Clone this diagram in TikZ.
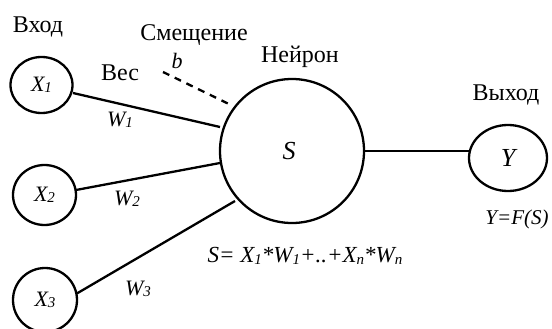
\documentclass[tikz,border=0pt]{standalone}
\usepackage{fontspec}
\setmainfont{Liberation Serif}
\newcommand{\sbs}[1]{\raisebox{-0.15ex}{\fontsize{15}{15}\selectfont #1}}
\begin{document}
\begin{tikzpicture}[x=1pt,y=-1pt,
  lbl/.style={font=\fontsize{24}{24}\selectfont, inner sep=0pt},
  ilbl/.style={font=\fontsize{22}{22}\selectfont\itshape, inner sep=0pt},
  wire/.style={line width=2.3pt}]
\useasboundingbox (0,0) rectangle (552,329);
\draw[wire] (41.5,85) ellipse (31 and 28);
\node[ilbl] (x1) at (41.5,85) {X\sbs{1}};
\draw[wire] (44.5,195) ellipse (31.5 and 30);
\node[ilbl] (x2) at (44.5,195) {X\sbs{2}};
\draw[wire] (45,300) ellipse (32 and 32);
\node[ilbl] (x3) at (45,300) {X\sbs{3}};
\draw[wire] (292,151) circle (72);
\node[ilbl, font=\fontsize{26}{26}\selectfont\itshape] (s) at (289,151) {S};
\draw[wire] (508,158) ellipse (39 and 33);
\node[ilbl, font=\fontsize{26}{26}\selectfont\itshape] (y) at (508,158) {Y};
\coordinate (a1) at (73,93); \coordinate (b1) at (220,127);
\coordinate (a2) at (76,190); \coordinate (b2) at (220,163);
\coordinate (a3) at (76,294); \coordinate (b3) at (235,201);
\coordinate (a4) at (364,151); \coordinate (b4) at (469,151);
\coordinate (d1) at (163,72); \coordinate (d2) at (233,106);
\draw[wire] (a1) -- (b1);
\draw[wire] (a2) -- (b2);
\draw[wire] (a3) -- (b3);
\draw[wire] (a4) -- (b4);
\draw[wire, dash pattern=on 7pt off 6pt] (d1) -- (d2);
\node[lbl] (vhod) at (38,27) {Вход};
\node[lbl] (smesh) at (194,35) {Смещение};
\node[ilbl] (bb) at (177,61) {b};
\node[lbl] (ves) at (120,73) {Вес};
\node[ilbl] (w1) at (120,120) {W\sbs{1}};
\node[ilbl] (w2) at (127,199) {W\sbs{2}};
\node[ilbl] (w3) at (138,289) {W\sbs{3}};
\node[lbl] (neur) at (300,57) {Нейрон};
\node[lbl] (vyh) at (506,95) {Выход};
\node[ilbl, font=\fontsize{21}{21}\selectfont\itshape] (yf) at (517,219) {Y=F(S)};
\node[ilbl, font=\fontsize{23}{23}\selectfont\itshape] (sum) at (305,256) {S= X\sbs{1}*W\sbs{1}+..+X\sbs{n}*W\sbs{n}};
\end{tikzpicture}
\end{document}
